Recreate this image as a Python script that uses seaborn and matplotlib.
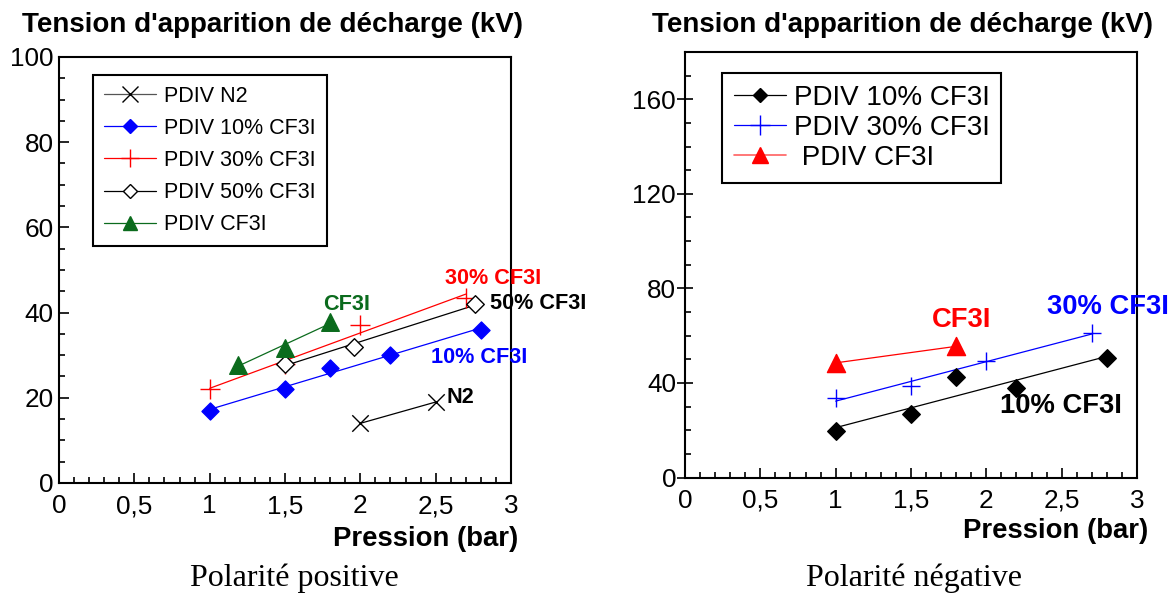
import matplotlib
matplotlib.use("Agg")
import matplotlib.pyplot as plt
from matplotlib.lines import Line2D
from matplotlib.ticker import MultipleLocator
import seaborn as sns
import numpy as np

# Polarite positive
pos_n2_x = [2.0, 2.5]
pos_n2_y = [14, 19]
pos_10_x = [1.0, 1.5, 1.8, 2.2, 2.8]
pos_10_y = [17, 22, 27, 30, 36]
pos_30_x = [1.0, 1.5, 2.0, 2.7]
pos_30_y = [22, 28, 37, 43.5]
pos_50_x = [1.5, 1.96, 2.76]
pos_50_y = [28, 32, 42]
pos_cf_x = [1.19, 1.5, 1.8]
pos_cf_y = [27.8, 31.8, 37.8]

# Polarite negative
neg_10_x = [1.0, 1.5, 1.8, 2.2, 2.8]
neg_10_y = [19.5, 27, 42.5, 38, 50.5]
neg_30_x = [1.0, 1.5, 2.0, 2.7]
neg_30_y = [33.5, 38.7, 49.5, 61]
neg_cf_x = [1.0, 1.8]
neg_cf_y = [48.5, 55.5]

GREEN = "#0b6b1d"

sns.set_theme(style="ticks")
plt.rcParams["font.family"] = ["Liberation Sans", "DejaVu Sans"]
plt.rcParams["axes.linewidth"] = 1.5
plt.rcParams["text.color"] = "black"
plt.rcParams["xtick.color"] = "black"
plt.rcParams["ytick.color"] = "black"
plt.rcParams["xtick.labelcolor"] = "black"
plt.rcParams["ytick.labelcolor"] = "black"

fig = plt.figure(figsize=(11.73, 5.94), dpi=100)
ax1 = fig.add_axes([0.0503, 0.1869, 0.3853, 0.7172])
ax2 = fig.add_axes([0.584, 0.1961, 0.3853, 0.7163])


def series(ax, x, y, color, marker, size, face=None, lw=0.9, mlw=1.0):
    kws = {"s": size, "color": color, "linewidths": mlw, "zorder": 3,
           "clip_on": False, "alpha": 1}
    if face is not None:
        kws["facecolors"] = face
        kws["edgecolors"] = color
    elif marker not in ("+", "x"):
        kws["edgecolors"] = color
    sns.regplot(x=np.array(x), y=np.array(y), ax=ax, ci=None, marker=marker,
                scatter_kws=kws, line_kws={"color": color, "lw": lw, "zorder": 2},
                truncate=True)


# left panel
series(ax1, pos_n2_x, pos_n2_y, "black", "x", 140)
series(ax1, pos_10_x, pos_10_y, "#0000ff", "D", 75)
series(ax1, pos_30_x, pos_30_y, "#ff0000", "+", 200)
series(ax1, pos_50_x, pos_50_y, "black", "D", 80, face="white")
series(ax1, pos_cf_x, pos_cf_y, GREEN, "^", 160)

ax1.set_xlim(0, 3)
ax1.set_ylim(0, 100)
ax1.yaxis.set_major_locator(MultipleLocator(20))
ax1.yaxis.set_minor_locator(MultipleLocator(5))

# right panel
series(ax2, neg_10_x, neg_10_y, "black", "D", 80)
series(ax2, neg_30_x, neg_30_y, "#0000ff", "+", 180)
series(ax2, neg_cf_x, neg_cf_y, "#ff0000", "^", 170)

ax2.set_xlim(0, 3)
ax2.set_ylim(0, 180)
ax2.yaxis.set_major_locator(MultipleLocator(40))
ax2.yaxis.set_minor_locator(MultipleLocator(10))

for ax in (ax1, ax2):
    ax.set_xlabel("")
    ax.set_ylabel("")
    ax.xaxis.set_major_locator(MultipleLocator(0.5))
    ax.xaxis.set_minor_locator(MultipleLocator(0.1))
    ax.xaxis.set_major_formatter(lambda v, p: f"{v:g}".replace(".", ","))
    for s in ax.spines.values():
        s.set_visible(True)
        s.set_color("black")
        s.set_linewidth(1.5)
    ax.tick_params(which="both", direction="in", top=False, right=False,
                   colors="black", labelsize=18.8, width=1.2)
    ax.tick_params(which="major", length=7)
    ax.tick_params(which="minor", length=4.5)
    ax.tick_params(axis="x", which="major", pad=8)
    ax.tick_params(axis="y", which="major", pad=4)
    ax.set_facecolor("white")

ax2.tick_params(axis="y", which="major", direction="inout", length=12, pad=0.5)

# legends
h1 = [
    Line2D([], [], color="#555555", lw=0.9, marker="x", ms=11, mec="black", mew=1.0),
    Line2D([], [], color="#0000ff", lw=0.9, marker="D", ms=7),
    Line2D([], [], color="#ff0000", lw=0.9, marker="+", ms=13, mew=1.0),
    Line2D([], [], color="black", lw=0.9, marker="D", ms=7, mfc="white", mew=1.0),
    Line2D([], [], color=GREEN, lw=0.9, marker="^", ms=10),
]
l1 = ["PDIV N2", "PDIV 10% CF3I", "PDIV 30% CF3I", "PDIV 50% CF3I", "PDIV CF3I"]
leg1 = ax1.legend(h1, l1, loc="upper left", bbox_to_anchor=(0.075, 0.958),
                  borderaxespad=0, fontsize=15.5, handlelength=2.45,
                  handletextpad=0.37, labelspacing=0.52, borderpad=0.5,
                  fancybox=False, framealpha=1, edgecolor="black")
leg1.get_frame().set_linewidth(1.5)

h2 = [
    Line2D([], [], color="black", lw=0.9, marker="D", ms=7),
    Line2D([], [], color="#0000ff", lw=0.9, marker="+", ms=14, mew=1.0),
    Line2D([], [], color="#ff6060", lw=1.2, marker="^", ms=11, mfc="#ff0000", mec="#ff0000"),
]
l2 = ["PDIV 10% CF3I", "PDIV 30% CF3I", " PDIV CF3I"]
leg2 = ax2.legend(h2, l2, loc="upper left", bbox_to_anchor=(0.0817, 0.951),
                  borderaxespad=0, fontsize=20, handlelength=1.9,
                  handletextpad=0.26, labelspacing=0.15, borderpad=0.42,
                  fancybox=False, framealpha=1, edgecolor="black")
leg2.get_frame().set_linewidth(1.5)

# annotations
ann = dict(fontweight="bold", va="center", ha="left", clip_on=False)
ax1.text(2.56, 48, "30% CF3I", color="#ff0000", fontsize=15.6, **ann)
ax1.text(2.86, 42.2, "50% CF3I", color="black", fontsize=15.6, **ann)
ax1.text(1.75, 42, "CF3I", color=GREEN, fontsize=15.6, **ann)
ax1.text(2.47, 29.5, "10% CF3I", color="#0000ff", fontsize=15.6, **ann)
ax1.text(2.57, 20, "N2", color="black", fontsize=15.6, **ann)

ax2.text(1.64, 66.5, "CF3I", color="#ff0000", fontsize=19.7, **ann)
ax2.text(2.40, 72, "30% CF3I", color="#0000ff", fontsize=19.7, **ann)
ax2.text(2.09, 30.3, "10% CF3I", color="black", fontsize=19.7, **ann)

# titles / axis labels / captions
fig.text(0.2319, 0.958, "Tension d'apparition de décharge (kV)", ha="center",
         va="center", fontsize=20, fontweight="bold")
fig.text(0.769, 0.958, "Tension d'apparition de décharge (kV)", ha="center",
         va="center", fontsize=20, fontweight="bold")
fig.text(0.4416, 0.093, "Pression (bar)", ha="right", va="center",
         fontsize=19.8, fontweight="bold")
fig.text(0.9787, 0.1057, "Pression (bar)", ha="right", va="center",
         fontsize=19.8, fontweight="bold")
fig.text(0.2512, 0.026, "Polarité positive", ha="center", va="center",
         fontsize=23, family="Liberation Serif")
fig.text(0.7792, 0.026, "Polarité négative", ha="center", va="center",
         fontsize=23, family="Liberation Serif")

fig.savefig("out.png", dpi=100, facecolor="white")
